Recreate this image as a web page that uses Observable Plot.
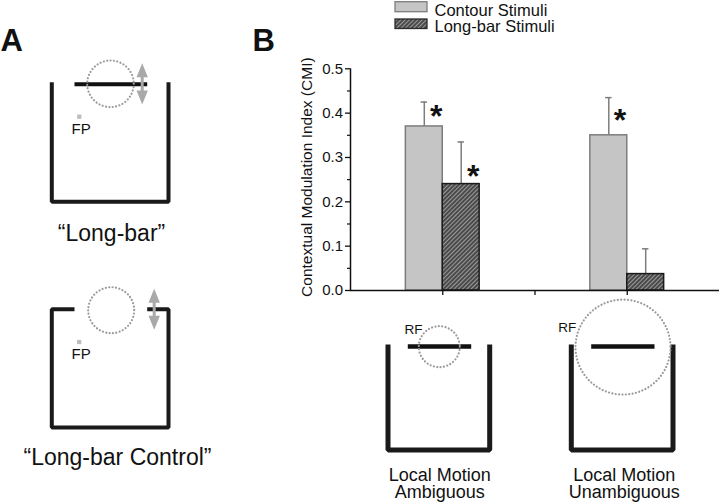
<!DOCTYPE html>
<html><head><meta charset="utf-8">
<script src="https://cdn.jsdelivr.net/npm/d3@7"></script>
<script src="https://cdn.jsdelivr.net/npm/@observablehq/plot@0.6"></script>
<style>
html,body{margin:0;padding:0;background:#fff;}
#wrap{position:relative;width:720px;height:504px;overflow:hidden;}
#wrap svg{position:absolute;left:0;top:0;}
</style></head><body><div id="wrap"></div>
<script>
// ---------- data ----------
const groups = ["Local Motion\nAmbiguous", "Local Motion\nUnambiguous"];
const groupPos = [1, 3];
const series = ["Contour Stimuli", "Long-bar Stimuli"];
const contourCMI = [0.37, 0.35];
const contourSEM = [0.055, 0.085];
const longbarCMI = [0.24, 0.037];
const longbarSEM = [0.095, 0.057];
const yTicks = [0, 0.1, 0.2, 0.3, 0.4, 0.5];
const yMinorTicks = [0.05, 0.15, 0.25, 0.35, 0.45];
const xTicks = [1, 2, 3];
const starX = [0.93, 1.33, 2.92];
const starY = [0.41, 0.275, 0.40];
const yLabel = "Contextual Modulation Index (CMI)";

// ---------- schematic geometry (pixels) ----------
const frames = [
  {id:"A1", w:4, pts:[[51.3,81.7],[51.3,201.3],[168,201.3],[168,81.7]]},
  {id:"A2", w:4, pts:[[74,308.7],[51.3,308.7],[51.3,427],[168,427],[168,308.7],[146.7,308.7]]},
  {id:"B1", w:5, pts:[[387.5,344],[387.5,449.5],[489.2,449.5],[489.2,344]]},
  {id:"B2", w:5, pts:[[570.8,344],[570.8,449.5],[672.5,449.5],[672.5,344]]}
];
const stimBars = [
  {x1:74, x2:146.7, y:83.7, w:4},
  {x1:407.3, x2:470.7, y:346, w:4.5},
  {x1:590.7, x2:654, y:346, w:4.5}
];
const rfCircles = [
  {x:110, y:83.3, r:23.3},
  {x:110.7, y:309.7, r:23},
  {x:438.8, y:346.2, r:20.5},
  {x:622.5, y:346.6, r:47.5}
];
const motionArrows = [
  {x:141.7, y1:62.7, y2:104},
  {x:153.7, y1:288.3, y2:329.3}
];
const fixPoints = [{x:78.8, y:116.2}, {x:78.7, y:341.5}];
const textLabels = [
  {t:"A", x:0, y:50.5, size:31, weight:"bold", anchor:"start"},
  {t:"B", x:252, y:50, size:31, weight:"bold", anchor:"start"},
  {t:"FP", x:71, y:133.3, size:15, weight:"normal", anchor:"start"},
  {t:"FP", x:71, y:358.3, size:15, weight:"normal", anchor:"start"},
  {t:"\u201CLong-bar\u201D", x:111, y:240, size:23, weight:"normal", anchor:"middle"},
  {t:"\u201CLong-bar Control\u201D", x:117, y:464, size:23, weight:"normal", anchor:"middle"},
  {t:"RF", x:404, y:333.3, size:13.5, weight:"normal", anchor:"start"},
  {t:"RF", x:557.7, y:331.7, size:13.5, weight:"normal", anchor:"start"}
];
const legendBoxes = [
  {x1:395, x2:427, y1:1.7, y2:11.7, ty:15},
  {x1:395, x2:427, y1:19, y2:28.5, ty:31.5}
];

const FONT = '"Liberation Sans", Arial, Helvetica, sans-serif';
const CONTOUR_FILL = "#c5c5c5", CONTOUR_STROKE = "#7d7d7d";
const GRAY_ARROW = "#a9a9a9";

// ---------- bar table ----------
const bars = [];
groupPos.forEach((g, i) => {
  bars.push({series: series[0], x1: g - 0.4, x2: g, mid: g - 0.2, v: contourCMI[i], top: contourCMI[i] + contourSEM[i]});
  bars.push({series: series[1], x1: g, x2: g + 0.4, mid: g + 0.2, v: longbarCMI[i], top: longbarCMI[i] + longbarSEM[i]});
});
const stars = starX.map((x, i) => ({x, y: starY[i]}));
const groupLabels = groups.map((t, i) => ({t, x: groupPos[i]}));

function addHatch(svg, id) {
  const defs = d3.select(svg).insert("defs", ":first-child");
  const p = defs.append("pattern").attr("id", id).attr("patternUnits", "userSpaceOnUse")
    .attr("width", 3).attr("height", 10).attr("patternTransform", "rotate(45)");
  p.append("rect").attr("width", 3).attr("height", 10).attr("fill", "#4a4a4a");
  p.append("line").attr("x1", 0.5).attr("y1", 0).attr("x2", 0.5).attr("y2", 10)
    .attr("stroke", "#9a9a9a").attr("stroke-width", 1);
}

// ---------- main chart ----------
const chart = Plot.plot({
  width: 720, height: 504,
  marginLeft: 350, marginRight: 1, marginTop: 68.3, marginBottom: 214,
  x: {domain: [0, 4]},
  y: {domain: [0, 0.5]},
  style: {fontFamily: FONT, background: "transparent", color: "#111"},
  marks: [
    Plot.ruleX(bars, {x: "mid", y1: "v", y2: "top", stroke: CONTOUR_STROKE, strokeWidth: 1.5}),
    Plot.ruleY(bars, {y: "top", x1: d => d.mid - 0.035, x2: d => d.mid + 0.035, stroke: CONTOUR_STROKE, strokeWidth: 1.5}),
    Plot.rectY(bars.filter(d => d.series === series[0]), {x1: "x1", x2: "x2", y: "v", fill: CONTOUR_FILL, stroke: CONTOUR_STROKE, strokeWidth: 1.5}),
    Plot.rectY(bars.filter(d => d.series === series[1]), {x1: "x1", x2: "x2", y: "v", fill: "url(#hatchM)", stroke: "#1a1a1a", strokeWidth: 1.5}),
    Plot.axisY({ticks: yTicks, tickFormat: d3.format(".1f"), tickSize: 5, tickPadding: 2.5, fontSize: 15, label: null, strokeWidth: 1.3}),
    Plot.axisY({ticks: yMinorTicks, tickFormat: () => "", tickSize: 3, label: null, strokeWidth: 1.2}),
    Plot.axisX({ticks: xTicks, tickFormat: () => "", tickSize: 5, label: null, strokeWidth: 1.3}),
    Plot.ruleX([0], {y1: 0, y2: 0.5, strokeWidth: 1.5}),
    Plot.ruleY([0], {x1: 0, x2: 4, strokeWidth: 1.5}),
    Plot.text([yLabel], {frameAnchor: "left", textAnchor: "middle", dx: -43, dy: -2.5, rotate: -90, fontSize: 15.5}),
    Plot.text(stars, {x: "x", y: "y", text: () => "*", fontSize: 32, fontWeight: "bold", lineAnchor: "bottom", dy: 18, fill: "#111"}),
    Plot.text(groupLabels, {x: "x", text: "t", frameAnchor: "bottom", lineAnchor: "bottom", dy: 207, dx: -3, fontSize: 18, lineHeight: 0.92})
  ]
});
addHatch(chart, "hatchM");

// ---------- schematic overlay ----------
const framePts = frames.flatMap(f => f.pts.map(([x, y]) => ({id: f.id, w: f.w, x, y})));
const arrowPolys = motionArrows.flatMap((a, k) => {
  const hl = 14, hw = 5.7, sw = 1.5;
  const P = [[a.x, a.y1], [a.x + hw, a.y1 + hl], [a.x + sw, a.y1 + hl], [a.x + sw, a.y2 - hl], [a.x + hw, a.y2 - hl],
             [a.x, a.y2], [a.x - hw, a.y2 - hl], [a.x - sw, a.y2 - hl], [a.x - sw, a.y1 + hl], [a.x - hw, a.y1 + hl], [a.x, a.y1]];
  return P.map(([x, y]) => ({k, x, y}));
});
const legendRows = series.map((s, i) => ({s, ...legendBoxes[i]}));

const overlay = Plot.plot({
  width: 720, height: 504, margin: 0,
  x: {type: "identity", axis: null},
  y: {type: "identity", axis: null},
  r: {type: "identity"},
  style: {fontFamily: FONT, background: "transparent", color: "#111"},
  marks: [
    Plot.line(framePts.filter(d => d.w === 4), {x: "x", y: "y", z: "id", stroke: "#1a1a1a", strokeWidth: 4, strokeLinejoin: "miter", strokeLinecap: "butt"}),
    Plot.line(framePts.filter(d => d.w === 5), {x: "x", y: "y", z: "id", stroke: "#1a1a1a", strokeWidth: 5, strokeLinejoin: "miter", strokeLinecap: "butt"}),
    Plot.link(stimBars, {x1: "x1", x2: "x2", y1: "y", y2: "y", stroke: "#111", strokeWidth: "w", strokeLinecap: "butt"}),
    Plot.dot(rfCircles, {x: "x", y: "y", r: "r", stroke: "#9a9a9a", strokeWidth: 2.2, strokeDasharray: "0.01 3.4", strokeLinecap: "round", fill: "none"}),
    Plot.line(arrowPolys, {x: "x", y: "y", z: "k", fill: GRAY_ARROW, stroke: "none"}),
    Plot.dot(fixPoints, {x: "x", y: "y", symbol: "square", r: 2.4, fill: "#bdbdbd", stroke: "none"}),
    ...textLabels.map(d => Plot.text([d], {x: "x", y: "y", text: "t", fontSize: d.size, fontWeight: d.weight, textAnchor: d.anchor, lineAnchor: "bottom", fill: "#111"})),
    Plot.rect(legendRows.filter(d => d.s === series[0]), {x1: "x1", x2: "x2", y1: "y1", y2: "y2", fill: CONTOUR_FILL, stroke: CONTOUR_STROKE, strokeWidth: 1.3}),
    Plot.rect(legendRows.filter(d => d.s === series[1]), {x1: "x1", x2: "x2", y1: "y1", y2: "y2", fill: "url(#hatchO)", stroke: "#2a2a2a", strokeWidth: 1.3}),
    Plot.text(legendRows, {x: 434, y: "ty", text: "s", fontSize: 16.5, textAnchor: "start", lineAnchor: "bottom", fill: "#111"})
  ]
});
addHatch(overlay, "hatchO");

const wrap = document.getElementById("wrap");
wrap.appendChild(chart);
wrap.appendChild(overlay);
</script></body></html>
